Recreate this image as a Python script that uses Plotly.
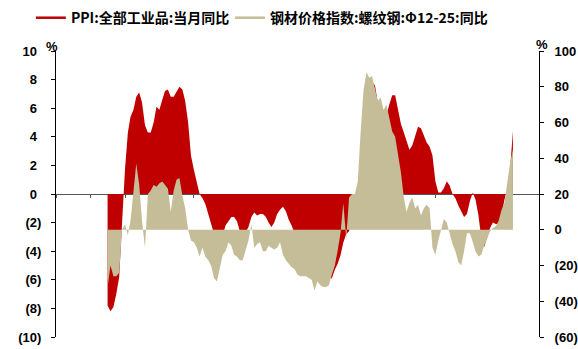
import pandas as pd
import plotly.graph_objects as go

# 月度数据：2009-06 至 2021-03
start_month = "2009-06-01"

ppi_yoy = [
    -7.8, -8.2, -7.9, -7.0, -5.8, -2.1, 1.7,
    4.3, 5.4, 5.9, 6.8, 7.1, 6.4, 4.8, 4.3, 4.3, 5.0, 6.1, 5.9,
    6.6, 7.2, 7.3, 6.8, 6.8, 7.1, 7.5, 7.3, 6.5, 5.0, 2.7, 1.7,
    0.7, 0.0, -0.3, -0.7, -1.4, -2.1, -2.9, -3.5, -3.6, -2.8, -2.2, -1.9,
    -1.6, -1.6, -1.9, -2.6, -2.9, -2.7, -2.3, -1.6, -1.3, -1.5, -1.4, -1.4,
    -1.6, -2.0, -2.3, -2.0, -1.4, -1.1, -0.9, -1.2, -1.8, -2.2, -2.7, -3.3,
    -4.3, -4.8, -4.6, -4.6, -4.6, -4.8, -5.4, -5.9, -5.9, -5.9, -5.9, -5.9,
    -5.3, -4.9, -4.3, -3.4, -2.8, -2.6, -1.7, -0.8, 0.1, 1.2, 3.3, 5.5,
    6.9, 7.8, 7.6, 6.4, 5.5, 5.5, 5.5, 6.3, 6.9, 6.9, 5.8, 4.9,
    4.3, 3.7, 3.1, 3.4, 4.1, 4.7, 4.6, 4.1, 3.6, 3.3, 2.7, 0.9,
    0.1, 0.1, 0.4, 0.9, 0.6, 0.0, -0.3, -0.8, -1.2, -1.6, -1.4, -0.5,
    0.1, -0.4, -1.5, -3.1, -3.7, -3.0, -2.4, -2.0, -2.1, -2.1, -1.5, -0.4,
    0.3, 1.7, 4.4,
]

rebar_yoy = [
    -32, -20, -26, -26, -24, 0, 3,
    -3, 5, 20, 37, 25, 5, -10, 20, 22, 25, 24, 26,
    27, 25, 23, 10, 22, 28, 29, 19, 12, 0, -6, -7,
    -10, -15, -10, -15, -17, -20, -27, -29, -22, -14, -12, -7,
    -9, -14, -15, -17, -17, -12, -6, 3, -10, -8, -7, -12,
    -12, -9, -10, -11, -10, -7, -14, -17, -19, -21, -22, -25,
    -26, -26, -26, -27, -28, -34, -29, -31, -32, -32, -31, -25,
    -20, -12, -2, 15, -5, 18, 20, 20, 27, 55, 78, 88,
    85, 86, 78, 72, 74, 67, 70, 63, 55, 52, 42, 32,
    18, 10, 15, 18, 12, 14, 8, 12, 14, 12, -10, -14,
    -6, 0, 6, 4, -3, -8, -12, -18, -20, -12, -2, -2,
    -7, -12, -15, -14, -9, -5, -1, 1, 2, 5, 11, 15,
    26, 37, 45,
]

left_ticks = [10, 8, 6, 4, 2, 0, -2, -4, -6, -8, -10]
right_ticks = [100, 80, 60, 40, 20, 0, -20, -40, -60]


def paren(v, pad=""):
    return f"({abs(v)})" if v < 0 else f"{v}{pad}"


dates = pd.date_range(start_month, periods=len(ppi_yoy), freq="MS") + pd.offsets.MonthEnd(0)

RED = "#C00000"
TAN = "#C4BD97"
name_ppi = "PPI:全部工业品:当月同比"
name_rebar = "钢材价格指数:螺纹钢:Φ12-25:同比"

fig = go.Figure()
fig.add_trace(go.Scatter(x=dates, y=ppi_yoy, mode="lines", fill="tozeroy",
                         fillcolor=RED, line={"width": 0, "color": RED},
                         showlegend=False, yaxis="y"))
fig.add_trace(go.Scatter(x=dates, y=rebar_yoy, mode="lines", fill="tozeroy",
                         fillcolor=TAN, line={"width": 0, "color": TAN},
                         showlegend=False, yaxis="y2"))
# 图例用线段样式，两条各放一个图例框
fig.add_trace(go.Scatter(x=[None], y=[None], mode="lines", name=name_ppi,
                         line={"color": RED, "width": 2.5}, legend="legend"))
fig.add_trace(go.Scatter(x=[None], y=[None], mode="lines", name=name_rebar,
                         line={"color": TAN, "width": 2.5}, legend="legend2"))

tick_font = {"family": "Liberation Sans, Arial", "size": 13, "color": "black", "weight": "bold"}
legend_font = {"family": "Noto Sans CJK SC", "size": 14, "color": "black", "weight": "bold"}

fig.update_layout(
    width=578, height=349,
    margin={"l": 56, "r": 39, "t": 51, "b": 12, "autoexpand": False},
    paper_bgcolor="white", plot_bgcolor="white",
    xaxis={
        "range": ["2008-01-01", "2022-01-01"],
        "tick0": "2008-01-01", "dtick": "M12",
        "showticklabels": False, "showgrid": False, "zeroline": False,
        "showline": True, "linecolor": "#555555", "linewidth": 1,
        "ticks": "outside", "ticklen": 3, "tickcolor": "#555555",
        "anchor": "free", "position": 0.5, "layer": "below traces",
    },
    yaxis={
        "range": [-10, 10], "tickvals": left_ticks,
        "ticktext": [paren(v, "\u2004") for v in left_ticks],
        "showgrid": False, "zeroline": False,
        "showline": True, "linecolor": "black", "linewidth": 1,
        "ticks": "outside", "ticklen": 4, "tickcolor": "black",
        "tickfont": tick_font, "ticklabelstandoff": 7,
    },
    yaxis2={
        "range": [-60, 100], "tickvals": right_ticks,
        "ticktext": [paren(v) for v in right_ticks],
        "overlaying": "y", "side": "right",
        "showgrid": False, "zeroline": False,
        "showline": True, "linecolor": "black", "linewidth": 1,
        "ticks": "outside", "ticklen": 4, "tickcolor": "black",
        "tickfont": tick_font, "ticklabelstandoff": 8,
    },
    legend={
        "orientation": "h", "x": -0.052, "xanchor": "left",
        "y": 1.115, "yanchor": "middle", "itemwidth": 30,
        "font": legend_font, "bgcolor": "rgba(0,0,0,0)",
    },
    legend2={
        "orientation": "h", "x": 0.36, "xanchor": "left",
        "y": 1.115, "yanchor": "middle", "itemwidth": 30,
        "font": legend_font, "bgcolor": "rgba(0,0,0,0)",
    },
    annotations=[
        {"text": "%", "xref": "paper", "yref": "paper", "x": -0.008, "y": 1.014,
         "xanchor": "center", "yanchor": "middle", "showarrow": False, "font": tick_font},
        {"text": "%", "xref": "paper", "yref": "paper", "x": 1.006, "y": 1.021,
         "xanchor": "center", "yanchor": "middle", "showarrow": False, "font": tick_font},
    ],
)

fig.write_html("out.html", config={"displayModeBar": False},
               post_script="document.body.style.margin='0';")
